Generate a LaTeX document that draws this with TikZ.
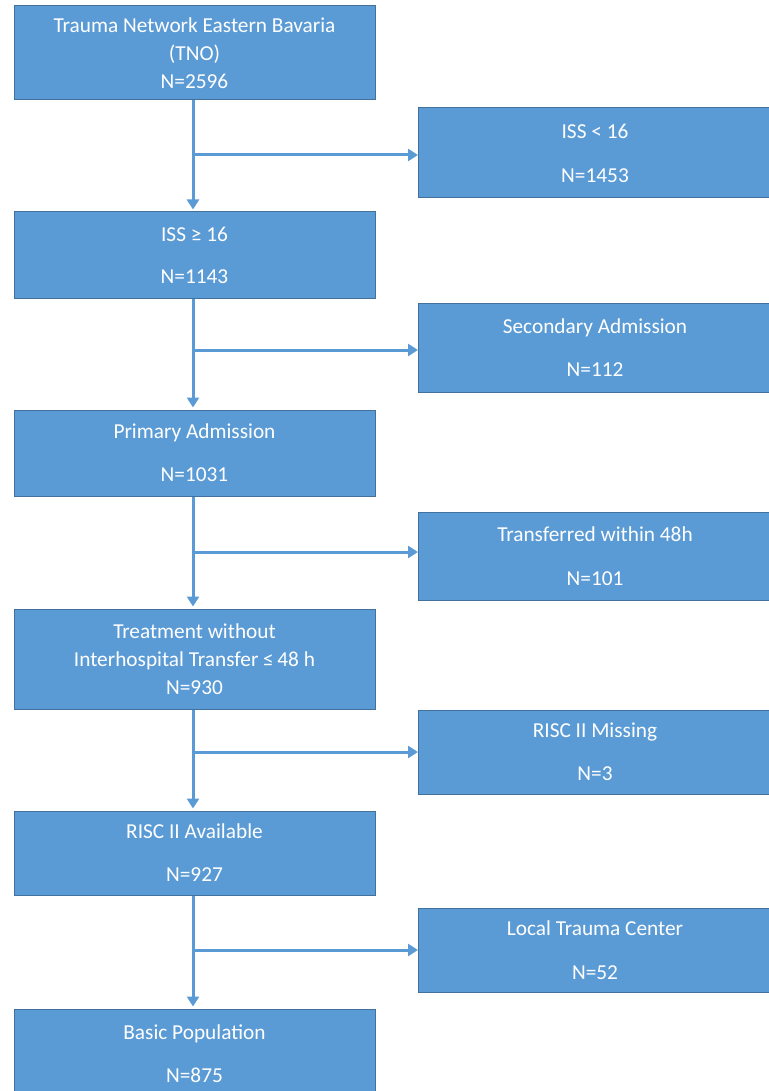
\documentclass[tikz,border=0pt]{standalone}
\usepackage{fontspec}
\setmainfont{Carlito}
\usetikzlibrary{arrows.meta}
\definecolor{boxfill}{HTML}{5B9BD5}
\definecolor{boxline}{HTML}{41719C}
\definecolor{arrowc}{HTML}{5B9BD5}
\tikzset{
  flowbox/.style={draw=boxline, line width=1pt, fill=boxfill, text=white,
    rectangle, inner sep=0pt, align=center,
    font=\fontsize{21.3}{28}\selectfont},
  leftbox/.style={flowbox, minimum width=361pt},
  rightbox/.style={flowbox, minimum width=362pt, anchor=west},
  flowarrow/.style={draw=arrowc, line width=3pt, -{Triangle[length=10pt,width=12pt]}},
}
\begin{document}
\begin{tikzpicture}[x=1pt,y=1pt]
\useasboundingbox (0,0) rectangle (768,-1091);
% left column
\node[leftbox, minimum height=94pt] (tno) at (194.5,-53) {Trauma Network Eastern Bavaria\\(TNO)\\N=2596};
\node[leftbox, minimum height=86pt] (iss16) at (194.5,-255) {ISS ≥ 16\\[14pt]N=1143};
\node[leftbox, minimum height=86pt] (prim) at (194.5,-453) {Primary Admission\\[15pt]N=1031};
\node[leftbox, minimum height=100pt] (treat) at (194.5,-659) {Treatment without\\Interhospital Transfer ≤\,48 h\\N=930};
\node[leftbox, minimum height=84pt] (avail) at (194.5,-853) {RISC II Available\\[15pt]N=927};
\node[leftbox, minimum height=89pt] (basic) at (194.5,-1053.5) {Basic Population\\[15pt]N=875};
% right column (boxes run past the right edge of the picture)
\node[rightbox, minimum height=90pt] (isslow) at (418,-153) {\hspace*{-9pt}ISS < 16\\[16pt]\hspace*{-9pt}N=1453};
\node[rightbox, minimum height=89pt] (second) at (418,-347.5) {\hspace*{-9pt}Secondary Admission\\[15pt]\hspace*{-9pt}N=112};
\node[rightbox, minimum height=88pt] (transf) at (418,-556) {\hspace*{-9pt}Transferred within 48h\\[16pt]\hspace*{-9pt}N=101};
\node[rightbox, minimum height=84pt] (miss) at (418,-752) {\hspace*{-9pt}RISC II Missing\\[15pt]\hspace*{-9pt}N=3};
\node[rightbox, minimum height=84pt] (local) at (418,-950) {\hspace*{-9pt}Local Trauma Center\\[16pt]\hspace*{-9pt}N=52};
% branch points
\coordinate (b1) at (192,-155);
\coordinate (b2) at (192,-350);
\coordinate (b3) at (192,-552);
\coordinate (b4) at (192,-752);
\coordinate (b5) at (192,-950);
% vertical arrows
\draw[flowarrow] ([xshift=-1.5pt]tno.south) -- ([xshift=-1.5pt,yshift=2pt]iss16.north);
\draw[flowarrow] ([xshift=-1.5pt]iss16.south) -- ([xshift=-1.5pt,yshift=2pt]prim.north);
\draw[flowarrow] ([xshift=-1.5pt]prim.south) -- ([xshift=-1.5pt,yshift=2pt]treat.north);
\draw[flowarrow] ([xshift=-1.5pt]treat.south) -- ([xshift=-1.5pt,yshift=2pt]avail.north);
\draw[flowarrow] ([xshift=-1.5pt]avail.south) -- ([xshift=-1.5pt,yshift=2pt]basic.north);
% horizontal arrows
\draw[flowarrow] (b1) -- (b1 -| isslow.west);
\draw[flowarrow] (b2) -- (b2 -| second.west);
\draw[flowarrow] (b3) -- (b3 -| transf.west);
\draw[flowarrow] (b4) -- (b4 -| miss.west);
\draw[flowarrow] (b5) -- (b5 -| local.west);
\end{tikzpicture}
\end{document}
